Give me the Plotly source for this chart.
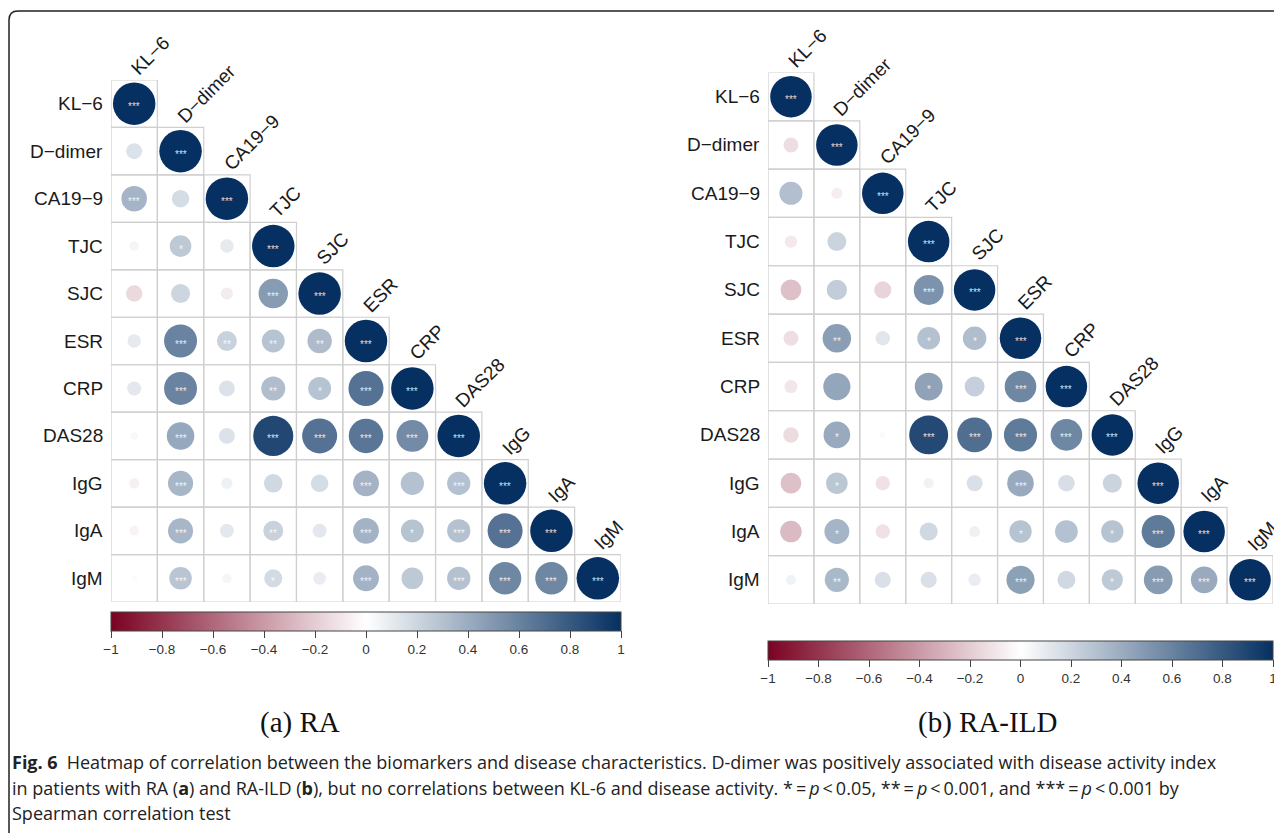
import plotly.graph_objects as go
import numpy as np

W, H = 1282, 833
OFF = 8  # browser body margin
FW, FH = W - OFF, H - OFF

labels = ["KL−6", "D−dimer", "CA19−9", "TJC", "SJC", "ESR", "CRP", "DAS28", "IgG", "IgA", "IgM"]

# lower-triangle correlations (row i, columns 0..i-1); diagonal = 1
ra_lower = [
    [],
    [0.14],
    [0.36, 0.17],
    [0.05, 0.26, 0.10],
    [-0.15, 0.20, -0.08, 0.48],
    [0.10, 0.60, 0.22, 0.29, 0.33],
    [0.11, 0.60, 0.14, 0.32, 0.29, 0.68],
    [-0.03, 0.42, 0.14, 0.89, 0.68, 0.66, 0.56],
    [-0.06, 0.35, 0.07, 0.19, 0.17, 0.37, 0.30, 0.30],
    [-0.05, 0.35, 0.11, 0.22, 0.11, 0.37, 0.29, 0.30, 0.68],
    [0.02, 0.28, 0.05, 0.18, 0.09, 0.37, 0.26, 0.30, 0.58, 0.58],
]
ra_stars = [
    [],
    [""],
    ["***", ""],
    ["", "*", ""],
    ["", "", "", "***"],
    ["", "***", "**", "**", "**"],
    ["", "***", "", "**", "*", "***"],
    ["", "***", "", "***", "***", "***", "***"],
    ["", "***", "", "", "", "***", "", "***"],
    ["", "***", "", "**", "", "***", "*", "***", "***"],
    ["", "***", "", "*", "", "***", "", "***", "***", "***"],
]

ild_lower = [
    [],
    [-0.13],
    [0.31, -0.07],
    [-0.09, 0.21, 0.00],
    [-0.25, 0.24, -0.17, 0.52],
    [-0.13, 0.47, 0.12, 0.30, 0.32],
    [-0.10, 0.43, 0.01, 0.45, 0.23, 0.58],
    [-0.14, 0.41, 0.02, 0.88, 0.70, 0.64, 0.58],
    [-0.25, 0.27, -0.12, 0.06, 0.15, 0.41, 0.16, 0.21],
    [-0.27, 0.36, -0.12, 0.19, 0.07, 0.29, 0.30, 0.29, 0.64],
    [0.06, 0.34, 0.15, 0.15, 0.09, 0.46, 0.19, 0.26, 0.48, 0.41],
]
ild_stars = [
    [],
    [""],
    ["", ""],
    ["", "", ""],
    ["", "", "", "***"],
    ["", "**", "", "*", "*"],
    ["", "", "", "*", "", "***"],
    ["", "*", "", "***", "***", "***", "***"],
    ["", "*", "", "", "", "***", "", ""],
    ["", "*", "", "", "", "*", "", "*", "***"],
    ["", "**", "", "", "", "***", "", "*", "***", "***"],
]

cbar_ticks = [-1, -0.8, -0.6, -0.4, -0.2, 0, 0.2, 0.4, 0.6, 0.8, 1]
panel_titles = ["(a) RA", "(b) RA-ILD"]

colorscale = [[0.0, "#7A0222"], [0.5, "#FFFFFF"], [1.0, "#053061"]]


def px_x(p):
    return (p - OFF) / FW


def px_y(p):
    return 1 - (p - OFF) / FH


panels = [
    dict(lower=ra_lower, stars=ra_stars, x0=111, x1=621, y0=80, y1=602, dmax=42.5,
         cb_top=612, ax=""),
    dict(lower=ild_lower, stars=ild_stars, x0=768, x1=1273, y0=72.5, y1=604, dmax=41.5,
         cb_top=641, ax="2"),
]

fig = go.Figure()
shapes = []
annotations = []
LABEL_FONT = dict(family="Liberation Sans, Arial, sans-serif", size=19, color="#1a1a1a")

for p in panels:
    n = len(labels)
    xs, ys, vals, sizes = [], [], [], []
    xref = "x" + p["ax"]
    yref = "y" + p["ax"]
    for i in range(n):
        row = list(p["lower"][i]) + [1.0]
        srow = list(p["stars"][i]) + ["***"]
        for j in range(i + 1):
            v = row[j]
            xs.append(j)
            ys.append(i)
            vals.append(v)
            sizes.append(p["dmax"] * np.sqrt(abs(v)))
            shapes.append(dict(type="rect", xref=xref, yref=yref,
                               x0=j - 0.5, x1=j + 0.5, y0=i - 0.5, y1=i + 0.5,
                               line=dict(color="#CFCFCF", width=1.2), layer="below"))
            if srow[j]:
                annotations.append(dict(x=j, y=i, xref=xref, yref=yref, text=srow[j],
                                        showarrow=False, yshift=-3,
                                        font=dict(family="Liberation Sans, Arial", size=10,
                                                  color="rgba(255,255,255,0.85)")))
        # row label
        annotations.append(dict(x=-0.5, y=i, xref=xref, yref=yref, text=labels[i],
                                showarrow=False, xanchor="right", xshift=-6,
                                font=LABEL_FONT))
        # diagonal (column) label
        annotations.append(dict(x=i, y=i - 0.5, xref=xref, yref=yref, text=labels[i],
                                showarrow=False, xanchor="left", yanchor="bottom",
                                textangle=-45, xshift=-10, yshift=-2,
                                font=LABEL_FONT))

    fig.add_trace(go.Scatter(
        x=xs, y=ys, mode="markers", xaxis=xref, yaxis=yref, hoverinfo="skip",
        marker=dict(size=sizes, color=vals, colorscale=colorscale, cmin=-1, cmax=1,
                    line=dict(width=0), opacity=1,
                    showscale=True,
                    colorbar=dict(orientation="h", x=px_x(p["x0"]), xanchor="left",
                                  y=px_y(p["cb_top"]), yanchor="top",
                                  len=p["x1"] - p["x0"], lenmode="pixels",
                                  thickness=19, thicknessmode="pixels",
                                  xpad=0, ypad=0,
                                  outlinewidth=1, outlinecolor="#444444",
                                  tickvals=cbar_ticks,
                                  ticktext=[("−" if t < 0 else "") + ("%g" % abs(t)) for t in cbar_ticks],
                                  ticks="outside", ticklen=7, tickcolor="#444444",
                                  tickfont=dict(family="Liberation Sans, Arial", size=13.5,
                                                color="#333333"))),
        showlegend=False))

    axname = "xaxis" + p["ax"]
    ayname = "yaxis" + p["ax"]
    fig.update_layout(**{
        axname: dict(domain=[px_x(p["x0"]), px_x(p["x1"])], range=[-0.5, n - 0.5],
                     visible=False, anchor=yref, fixedrange=True),
        ayname: dict(domain=[px_y(p["y1"]), px_y(p["y0"])], range=[n - 0.5, -0.5],
                     visible=False, anchor=xref, fixedrange=True),
    })

# panel sub-titles
for title, cx in zip(panel_titles, [300, 987]):
    annotations.append(dict(x=px_x(cx), y=px_y(722), xref="paper", yref="paper",
                            text=title, showarrow=False, xanchor="center", yanchor="middle",
                            font=dict(family="Liberation Serif, Times New Roman, serif",
                                      size=29, color="#111111")))

TS = "&#8201;"  # thin space
caption_lines = [
    "<b>Fig. 6</b>&#8194;Heatmap of correlation between the biomarkers and disease characteristics. "
    "D-dimer was positively associated with disease activity index",
    f"in patients with RA (<b>a</b>) and RA-ILD (<b>b</b>), but no correlations between KL-6 and "
    f"disease activity. *{TS}={TS}<i>p</i>{TS}&lt;{TS}0.05, **{TS}={TS}<i>p</i>{TS}&lt;{TS}0.001, "
    f"and ***{TS}={TS}<i>p</i>{TS}&lt;{TS}0.001 by",
    "Spearman correlation test",
]
for k, line in enumerate(caption_lines):
    annotations.append(dict(x=px_x(10), y=px_y(762 + 25.5 * k), xref="paper", yref="paper",
                            text=line, showarrow=False, xanchor="left", yanchor="middle",
                            font=dict(family="Open Sans, Liberation Sans, sans-serif", size=18,
                                      color="#222222")))

# rounded frame around the figure
fx, fy, rr = 9, 11, 9
frame_path = (f"M {px_x(fx)},{px_y(H + 20)} L {px_x(fx)},{px_y(fy + rr)} "
              f"Q {px_x(fx)},{px_y(fy)} {px_x(fx + rr)},{px_y(fy)} L {px_x(W + 20)},{px_y(fy)}")
shapes.append(dict(type="path", xref="paper", yref="paper", path=frame_path,
                   line=dict(color="#222222", width=1.5)))

fig.update_layout(width=FW, height=FH, margin=dict(l=0, r=0, t=0, b=0),
                  paper_bgcolor="white", plot_bgcolor="white",
                  shapes=shapes, annotations=annotations, showlegend=False)

fig.write_html("out.html")
